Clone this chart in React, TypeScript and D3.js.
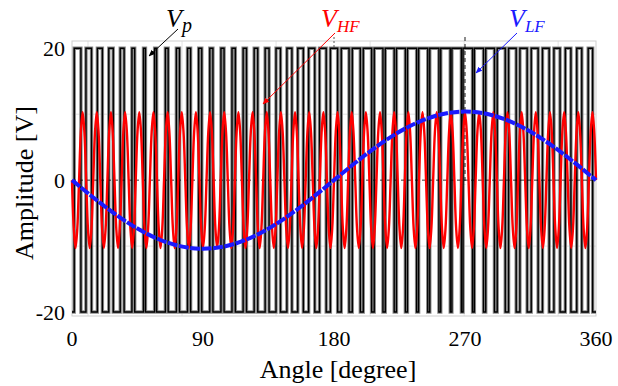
import { useMemo } from "react";
import * as d3 from "d3";

// ── Data ──────────────────────────────────────────────────────
// V_LF, sampled every 30 degrees
const LF_ANGLES = [0, 30, 60, 90, 120, 150, 180, 210, 240, 270, 300, 330, 360];
const LF_VALUES = [0, -5.2, -9.0, -10.4, -9.0, -5.2, 0, 5.2, 9.0, 10.4, 9.0, 5.2, 0];

// V_HF: 37 cycles over 360 deg, one cycle read at 1/8 steps and repeated
const HF_CYCLES = 37;
const HF_CYCLE_SHAPE = [0, -7.3, -10.3, -7.3, 0, 7.3, 10.3, 7.3];

// V_p: 47 switching periods, high-time fraction of each period
const VP_HIGH = 20;
const VP_LOW = -20;
const VP_DUTY = [
  0.6, 0.5, 0.45, 0.4, 0.35, 0.25, 0.18, 0.18, 0.25, 0.28,
  0.28, 0.28, 0.28, 0.28, 0.3, 0.3, 0.32, 0.35, 0.4, 0.45,
  0.5, 0.55, 0.6, 0.65, 0.7, 0.72, 0.75, 0.78, 0.8, 0.8,
  0.82, 0.82, 0.82, 0.85, 0.85, 0.85, 0.82, 0.78, 0.72, 0.68,
  0.65, 0.62, 0.6, 0.55, 0.5, 0.45, 0.4,
];

const X_TICKS = [0, 90, 180, 270, 360];
const Y_TICKS = [-20, 0, 20];
const GRID_X = [11, 75.6, 140.2, 204.8, 269.4, 334];
const GRID_Y = [-10, 10];

const W = 618;
const H = 386;
const FONT = "'Liberation Serif', 'Times New Roman', serif";

export default function App() {
  const x = d3.scaleLinear().domain([0, 360]).range([72, 596]);
  const y = d3.scaleLinear().domain([-20.6, 21.1]).range([316, 41]);

  const lfPath = useMemo(() => {
    const pts = LF_ANGLES.map((a, i) => [a, LF_VALUES[i]] as [number, number]);
    return d3.line<[number, number]>()
      .x((d) => x(d[0]))
      .y((d) => y(d[1]))
      .curve(d3.curveNatural)(pts) ?? "";
  }, []);

  const hfPath = useMemo(() => {
    const step = 360 / HF_CYCLES / HF_CYCLE_SHAPE.length;
    const pts: [number, number][] = [];
    for (let c = 0; c < HF_CYCLES; c++) {
      HF_CYCLE_SHAPE.forEach((v, j) => {
        pts.push([(c * HF_CYCLE_SHAPE.length + j) * step, v]);
      });
    }
    pts.push([360, HF_CYCLE_SHAPE[0]]);
    return d3.line<[number, number]>()
      .x((d) => x(d[0]))
      .y((d) => y(d[1]))
      .curve(d3.curveCatmullRom)(pts) ?? "";
  }, []);

  const vpPath = useMemo(() => {
    const T = 360 / VP_DUTY.length;
    const pts: [number, number][] = [[0, VP_LOW]];
    VP_DUTY.forEach((d, k) => {
      const a0 = (k + 0.5 - d / 2) * T;
      const a1 = (k + 0.5 + d / 2) * T;
      pts.push([a0, VP_LOW], [a0, VP_HIGH], [a1, VP_HIGH], [a1, VP_LOW]);
    });
    pts.push([360, VP_LOW]);
    return d3.line<[number, number]>()
      .x((d) => x(d[0]))
      .y((d) => y(d[1]))(pts) ?? "";
  }, []);

  const [x0, x1] = x.range();
  const [yb, yt] = y.range();

  return (
    <svg width={W} height={H} style={{ position: "absolute", left: 0, top: 0, background: "#fff" }}>
      <defs>
        {["#000", "#ff0000", "#1a1aff"].map((c, i) => (
          <marker key={c} id={`ah${i}`} viewBox="0 0 10 10" refX="9" refY="5"
            markerWidth="7" markerHeight="7" orient="auto-start-reverse">
            <path d="M0,1 L10,5 L0,9 z" fill={c} />
          </marker>
        ))}
      </defs>

      {/* grid + frame */}
      {GRID_X.map((g) => (
        <line key={g} x1={x(g)} x2={x(g)} y1={yt} y2={yb} stroke="#e3e3e3" strokeWidth={1} />
      ))}
      {GRID_Y.map((g) => (
        <line key={g} x1={x0} x2={x1} y1={y(g)} y2={y(g)} stroke="#e3e3e3" strokeWidth={1} />
      ))}
      <rect x={x0} y={yt} width={x1 - x0} height={yb - yt} fill="none" stroke="#cfcfcf" strokeWidth={1} />

      {/* V_p */}
      <path d={vpPath} fill="none" stroke="#8a8a8a" strokeWidth={3.4} strokeLinejoin="miter" />
      <path d={vpPath} fill="none" stroke="#000" strokeWidth={1.4} strokeLinejoin="miter" />

      {/* reference dashes */}
      <line x1={x0} x2={x1} y1={y(0)} y2={y(0)} stroke="#000" strokeWidth={0.8} strokeDasharray="4 3" />
      <line x1={x(180)} x2={x(180)} y1={yt - 4} y2={yt + 6} stroke="#444" strokeWidth={0.9} strokeDasharray="2 2" />
      <line x1={x(270)} x2={x(270)} y1={yt - 4} y2={y(0) + 4} stroke="#000" strokeWidth={0.9} strokeDasharray="4 3" />

      {/* V_HF, V_LF */}
      <path d={hfPath} fill="none" stroke="#ff0000" strokeWidth={2.4} />
      <path d={lfPath} fill="none" stroke="#1a1aff" strokeWidth={4} strokeDasharray="10 1.5" />

      {/* axes text */}
      <g fontFamily={FONT} fontSize={22} fill="#000">
        {Y_TICKS.map((t) => (
          <text key={t} x={65} y={y(t)} dy="0.35em" textAnchor="end">{t}</text>
        ))}
        {X_TICKS.map((t) => (
          <text key={t} x={x(t)} y={346} textAnchor="middle">{t}</text>
        ))}
        <text x={338} y={378} textAnchor="middle" fontSize={26}>Angle [degree]</text>
        <text transform="translate(33,183) rotate(-90)" textAnchor="middle" fontSize={26}>Amplitude [V]</text>
      </g>

      {/* annotations */}
      <g fontFamily={FONT} fontStyle="italic">
        <text x={166} y={27} fontSize={26} fill="#000">V<tspan fontSize={20} dy={5}>p</tspan></text>
        <line x1={178} y1={29} x2={149} y2={56} stroke="#000" strokeWidth={1} markerEnd="url(#ah0)" />

        <text x={321} y={27} fontSize={26} fill="#ff0000">V<tspan fontSize={17} dy={5}>HF</tspan></text>
        <line x1={335} y1={33} x2={263} y2={104} stroke="#ff0000" strokeWidth={1} markerEnd="url(#ah1)" />

        <text x={509} y={27} fontSize={26} fill="#1a1aff">V<tspan fontSize={17} dy={5}>LF</tspan></text>
        <line x1={517} y1={33} x2={476} y2={73} stroke="#1a1aff" strokeWidth={1} markerEnd="url(#ah2)" />
      </g>
    </svg>
  );
}
